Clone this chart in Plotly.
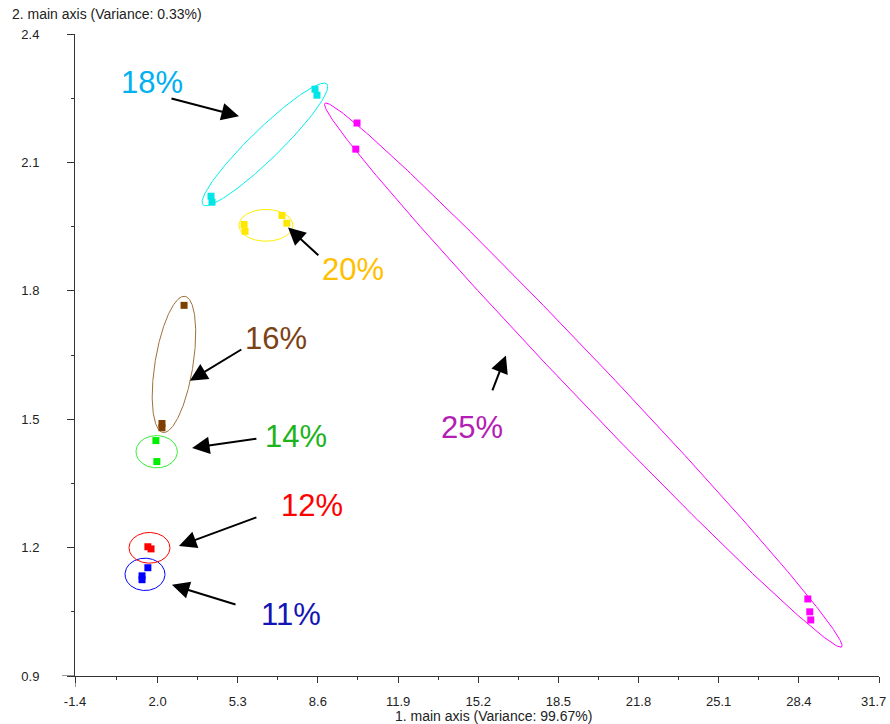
import numpy as np
import plotly.graph_objects as go

# ---------------- data ----------------
groups = ["11%", "12%", "14%", "16%", "18%", "20%", "25%"]

x_11 = [1.60, 1.36, 1.36]
y_11 = [1.153, 1.134, 1.125]
x_12 = [1.60, 1.73]
y_12 = [1.202, 1.197]
x_14 = [1.93, 1.97]
y_14 = [1.450, 1.401]
x_16 = [3.09, 2.18, 2.18]
y_16 = [1.766, 1.490, 1.480]
x_18 = [8.48, 8.56, 4.20, 4.24]
y_18 = [2.271, 2.257, 2.021, 2.007]
x_20 = [5.56, 5.60, 7.12, 7.32]
y_20 = [1.955, 1.939, 1.976, 1.958]
x_25 = [10.21, 10.16, 28.77, 28.85, 28.89]
y_25 = [2.192, 2.131, 1.080, 1.050, 1.031]

# ellipse: centre, end of major axis, minor/major ratio
ell_cx = [1.481, 1.666, 1.962, 2.674, 6.419, 6.460, 19.526]
ell_cy = [1.1375, 1.1995, 1.424, 1.628, 2.142, 1.953, 1.603]
ell_tx = [2.304, 2.509, 2.814, 3.127, 8.970, 7.571, 30.164]
ell_ty = [1.1375, 1.1995, 1.424, 1.787, 2.283, 1.953, 0.968]
ell_ratio = [0.81, 0.75, 0.78, 0.276, 0.174, 0.59, 0.052]

# label annotations (text pos, arrow tail, arrow tip)
lab_x = [7.49, 8.35, 7.70, 6.87, 1.77, 10.04, 14.94]
lab_y = [1.043, 1.298, 1.459, 1.688, 2.287, 1.850, 1.480]
tail_x = [5.27, 6.13, 6.13, 5.51, 2.51, 8.68, 15.76]
tail_y = [1.066, 1.272, 1.455, 1.665, 2.250, 1.880, 1.564]
tip_x = [2.59, 2.88, 3.42, 3.33, 5.35, 7.37, 16.34]
tip_y = [1.113, 1.204, 1.433, 1.590, 2.208, 1.948, 1.649]

x_ticks = [-1.4, 2.0, 5.3, 8.6, 11.9, 15.2, 18.5, 21.8, 25.1, 28.4, 31.7]
y_ticks = [0.9, 1.2, 1.5, 1.8, 2.1, 2.4]

# ---------------- styles ----------------
marker_colors = ["#0000FF", "#FF0000", "#00EE00", "#7F3F00", "#00E6E6", "#FFE800", "#FF00FF"]
ellipse_colors = ["#0000FF", "#FF0000", "#33EE33", "#A0703C", "#00EEEE", "#FFEE00", "#FF00FF"]
label_colors = ["#1414B4", "#FF0000", "#1DB31D", "#7B4214", "#00B0F0", "#FFC000", "#B41EB4"]

W, H = 890, 724
ML, MR, MT, MB = 75, 11, 34, 48
eps = 1e-6
xr = [x_ticks[0] - eps, x_ticks[-1] + eps]
yr = [y_ticks[0] - eps, y_ticks[-1] + eps]
KX = (W - ML - MR) / (xr[1] - xr[0])
KY = (H - MT - MB) / (yr[1] - yr[0])

xs_all = [x_11, x_12, x_14, x_16, x_18, x_20, x_25]
ys_all = [y_11, y_12, y_14, y_16, y_18, y_20, y_25]

fig = go.Figure()

theta = np.linspace(0, 2 * np.pi, 361)
for i, g in enumerate(groups):
    ux = (ell_tx[i] - ell_cx[i]) * KX
    uy = (ell_ty[i] - ell_cy[i]) * KY
    vx = -uy * ell_ratio[i]
    vy = ux * ell_ratio[i]
    ex = ell_cx[i] + (ux * np.cos(theta) + vx * np.sin(theta)) / KX
    ey = ell_cy[i] + (uy * np.cos(theta) + vy * np.sin(theta)) / KY
    fig.add_trace(go.Scatter(x=ex, y=ey, mode="lines",
                             line=dict(color=ellipse_colors[i], width=1),
                             hoverinfo="skip", showlegend=False))

for i, g in enumerate(groups):
    fig.add_trace(go.Scatter(x=xs_all[i], y=ys_all[i], mode="markers", name=g,
                             marker=dict(symbol="square", size=7, color=marker_colors[i],
                                         line=dict(width=0)),
                             showlegend=False))

for i, g in enumerate(groups):
    fig.add_annotation(x=tip_x[i], y=tip_y[i], ax=tail_x[i], ay=tail_y[i],
                       xref="x", yref="y", axref="x", ayref="y",
                       text="", showarrow=True, arrowhead=2, arrowsize=1.75,
                       arrowwidth=2, arrowcolor="black")
    fig.add_annotation(x=lab_x[i], y=lab_y[i], xref="x", yref="y", text=g,
                       showarrow=False,
                       font=dict(family="Liberation Sans, Arial", size=31,
                                 color=label_colors[i]))

fig.add_annotation(x=(10 - ML) / (W - ML - MR), y=1 + 20 / (H - MT - MB),
                   xref="paper", yref="paper", xanchor="left", yanchor="middle",
                   text="2. main axis (Variance: 0.33%)", showarrow=False,
                   font=dict(family="Liberation Sans, Arial", size=14, color="#222"))
fig.add_annotation(x=0.521, y=-40 / (H - MT - MB),
                   xref="paper", yref="paper", xanchor="center", yanchor="middle",
                   text="1. main axis (Variance: 99.67%)", showarrow=False,
                   font=dict(family="Liberation Sans, Arial", size=14, color="#222"))

# last x tick label, nudged inward so it stays inside the page
tick_font = dict(family="Liberation Sans, Arial", size=13, color="#222")
fig.add_annotation(x=x_ticks[-1], y=0, xref="x", yref="paper",
                   xanchor="center", yanchor="middle", xshift=-6, yshift=-25,
                   text=f"{x_ticks[-1]:.1f}", showarrow=False, font=tick_font)

# axis line extensions at the corner
fig.add_shape(type="line", xref="x", yref="paper", x0=x_ticks[0], x1=x_ticks[0],
              ysizemode="pixel", yanchor=0, y0=0, y1=-11,
              line=dict(color="#333", width=1))
fig.add_shape(type="line", yref="y", xref="paper", y0=y_ticks[0], y1=y_ticks[0],
              xsizemode="pixel", xanchor=0, x0=0, x1=-13,
              line=dict(color="#333", width=1))

x_minor = [(a + b) / 2 for a, b in zip(x_ticks[:-1], x_ticks[1:])]
y_minor = [(a + b) / 2 for a, b in zip(y_ticks[:-1], y_ticks[1:])]

x_text = [f"{v:.1f}" for v in x_ticks]
x_text[-1] = ""

fig.update_xaxes(range=xr, tickmode="array", tickvals=x_ticks,
                 ticktext=x_text, automargin=False,
                 ticklabeloverflow="allow",
                 showgrid=False, zeroline=False, showline=True, linecolor="#333",
                 linewidth=1, ticks="outside", ticklen=6, tickcolor="#333",
                 ticklabelstandoff=7,
                 minor=dict(tickvals=x_minor, ticks="outside", ticklen=3, tickcolor="#333"),
                 tickfont=tick_font)
fig.update_yaxes(range=yr, tickmode="array", tickvals=y_ticks,
                 ticktext=[f"{v:.1f}" for v in y_ticks], automargin=False,
                 ticklabeloverflow="allow",
                 showgrid=False, zeroline=False, showline=True, linecolor="#333",
                 linewidth=1, ticks="outside", ticklen=7, tickcolor="#333",
                 ticklabelstandoff=25,
                 minor=dict(tickvals=y_minor, ticks="outside", ticklen=3, tickcolor="#333"),
                 tickfont=tick_font)

fig.update_layout(width=W, height=H, margin=dict(l=ML, r=MR, t=MT, b=MB),
                  paper_bgcolor="white", plot_bgcolor="white", showlegend=False)

fig.write_html("out.html", config={"displayModeBar": False},
               post_script="document.body.style.margin='0';"
                           "document.body.style.overflow='hidden';")
